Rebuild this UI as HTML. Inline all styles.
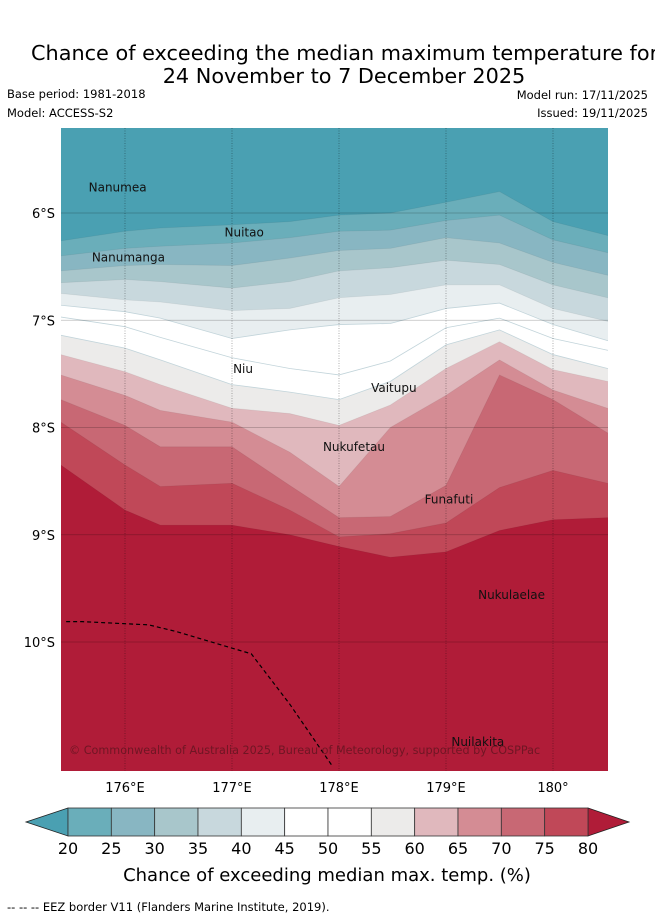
<!DOCTYPE html>
<html><head><meta charset="utf-8"><style>
html,body{margin:0;padding:0;background:#fff;width:655px;height:919px;overflow:hidden}
svg{display:block;font-family:"DejaVu Sans","Liberation Sans",sans-serif}
</style></head><body>
<svg id="chart" width="655" height="919" viewBox="0 0 655 919">
<text x="31" y="60" font-size="20.8" fill="#000">Chance of exceeding the median maximum temperature for</text>
<text x="344" y="83" font-size="20.8" text-anchor="middle" fill="#000">24 November to 7 December 2025</text>
<text x="7" y="98" font-size="11.5">Base period: 1981-2018</text>
<text x="7" y="117" font-size="11.5">Model: ACCESS-S2</text>
<text x="648" y="99" font-size="11.5" text-anchor="end">Model run: 17/11/2025</text>
<text x="648" y="117" font-size="11.5" text-anchor="end">Issued: 19/11/2025</text>
<defs><clipPath id="plotclip"><rect x="61" y="128" width="547" height="643"/></clipPath></defs>
<g id="map" clip-path="url(#plotclip)"></g>
<g id="axes"></g>
<g id="cbar"></g>
<text x="327" y="881" font-size="18" text-anchor="middle">Chance of exceeding median max. temp. (%)</text>
<text x="7" y="911" font-size="11.5">-- -- -- EEZ border V11 (Flanders Marine Institute, 2019).</text>
</svg>
<script>
const lons = [175.40, 176.00, 176.33, 177.00, 177.54, 178.00, 178.48, 179.00, 179.50, 180.00, 180.51];
const levels = [20, 25, 30, 35, 40, 45, 50, 55, 60, 65, 70, 75, 80];
const lat20 = [6.26, 6.17, 6.14, 6.11, 6.08, 6.02, 6.00, 5.90, 5.80, 6.08, 6.21];
const lat25 = [6.40, 6.33, 6.31, 6.28, 6.23, 6.17, 6.16, 6.07, 6.02, 6.25, 6.37];
const lat30 = [6.54, 6.49, 6.48, 6.49, 6.42, 6.35, 6.33, 6.23, 6.28, 6.46, 6.58];
const lat35 = [6.65, 6.62, 6.64, 6.70, 6.64, 6.54, 6.51, 6.44, 6.48, 6.67, 6.79];
const lat40 = [6.75, 6.81, 6.83, 6.91, 6.89, 6.79, 6.76, 6.67, 6.67, 6.89, 7.01];
const lat45 = [6.86, 6.92, 6.98, 7.17, 7.09, 7.04, 7.03, 6.89, 6.84, 7.04, 7.19];
const lat50 = [6.97, 7.06, 7.16, 7.35, 7.45, 7.51, 7.38, 7.07, 6.98, 7.17, 7.28];
const lat55 = [7.14, 7.26, 7.37, 7.60, 7.67, 7.74, 7.57, 7.23, 7.09, 7.32, 7.45];
const lat60 = [7.32, 7.48, 7.60, 7.82, 7.87, 7.98, 7.79, 7.45, 7.20, 7.46, 7.57];
const lat65 = [7.51, 7.70, 7.84, 7.95, 8.23, 8.55, 8.00, 7.70, 7.37, 7.65, 7.82];
const lat70 = [7.74, 7.98, 8.18, 8.18, 8.54, 8.84, 8.83, 8.54, 7.51, 7.74, 8.05];
const lat75 = [7.95, 8.35, 8.55, 8.52, 8.77, 9.02, 8.99, 8.89, 8.56, 8.40, 8.52];
const lat80 = [8.35, 8.77, 8.91, 8.91, 9.00, 9.11, 9.21, 9.16, 8.96, 8.86, 8.84];
const contourLats = [lat20, lat25, lat30, lat35, lat40, lat45, lat50, lat55, lat60, lat65, lat70, lat75, lat80];
const bandColors = ["#4aa0b2","#6aaeba","#88b6c2","#a8c6cb","#c8d8dd","#e8eef0","#ffffff","#ffffff","#ecebea","#e0b8bd","#d48c94","#c86874","#c04858","#b01c38"];
const lonTicks = [176, 177, 178, 179, 180];
const lonTickLabels = ["176°E","177°E","178°E","179°E","180°"];
const latTicks = [6, 7, 8, 9, 10];
const latTickLabels = ["6°S","7°S","8°S","9°S","10°S"];
const islandNames = ["Nanumea","Nuitao","Nanumanga","Niu","Vaitupu","Nukufetau","Funafuti","Nukulaelae","Nuilakita"];
const islandLon = [175.66, 176.93, 175.69, 177.01, 178.30, 177.85, 178.80, 179.30, 179.05];
const islandLat = [5.80, 6.22, 6.45, 7.49, 7.67, 8.22, 8.71, 9.60, 10.97];
const eezLon = [175.45, 175.60, 176.22, 176.47, 177.18, 177.54, 177.94];
const eezLat = [9.81, 9.81, 9.84, 9.90, 10.11, 10.58, 11.16];

const NS = "http://www.w3.org/2000/svg";
const X0 = 61, X1 = 608, Y0 = 128, Y1 = 771;
function xs(lon){ return 125 + (lon - 176) * 107; }
function ys(lat){ return 213 + (lat - 6) * 107.25; }
function mk(tag, attrs, parent){ const e = document.createElementNS(NS, tag); for (const k in attrs) e.setAttribute(k, attrs[k]); parent.appendChild(e); return e; }

const map = document.getElementById('map');
const bg = mk('rect', {x:X0, y:Y0, width:X1-X0, height:Y1-Y0, fill:bandColors[0]}, map);


contourLats.forEach((arr, i) => {
  let d = 'M' + (X0-5) + ',' + ys(arr[0]);
  arr.forEach((la, j) => { d += ' L' + xs(lons[j]) + ',' + ys(la); });
  d += ' L' + (X1+5) + ',' + ys(arr[arr.length-1]) + ' L' + (X1+5) + ',' + (Y1+5) + ' L' + (X0-5) + ',' + (Y1+5) + 'Z';
  const p = mk('path', {d:d, fill:bandColors[i+1], stroke: (levels[i] >= 45 && levels[i] <= 55) ? '#c2d4da' : 'rgba(0,0,0,0.06)', 'stroke-width': 0.8}, map);
  
  
});
lonTicks.forEach(l => {
  const g = mk('line', {x1:xs(l), x2:xs(l), y1:Y0, y2:Y1, stroke:'rgba(0,0,0,0.45)', 'stroke-width':0.7, 'stroke-dasharray':'1,1.5'}, map);
  
  
});
latTicks.forEach(l => {
  const g = mk('line', {x1:X0, x2:X1, y1:ys(l), y2:ys(l), stroke:'rgba(0,0,0,0.25)', 'stroke-width':0.8}, map);
  
  
});
const eez = mk('polyline', {points: eezLon.map((l,i)=>xs(l)+','+ys(eezLat[i])).join(' '), fill:'none', stroke:'#000', 'stroke-width':1.2, 'stroke-dasharray':'4,3'}, map);


islandNames.forEach((n, i) => {
  const t = mk('text', {x:xs(islandLon[i]), y:ys(islandLat[i]), 'font-size':12, fill:'#111', 'text-anchor':'start'}, map);
  t.textContent = n;
  
  
});
const cp = mk('text', {x:69, y:754, 'font-size':11.2, fill:'rgba(90,20,30,0.75)'}, map);
cp.textContent = '© Commonwealth of Australia 2025, Bureau of Meteorology, supported by COSPPac';



const axes = document.getElementById('axes');
lonTicks.forEach((l, i) => {
  const t = mk('text', {x:xs(l), y:792, 'font-size':13, 'text-anchor':'middle'}, axes);
  t.textContent = lonTickLabels[i];
  
  
});
latTicks.forEach((l, i) => {
  const t = mk('text', {x:55, y:ys(l)+5, 'font-size':13, 'text-anchor':'end'}, axes);
  t.textContent = latTickLabels[i];
  
  
});

const cb = document.getElementById('cbar');
function cx(v){ return 68 + (v - 20) * (520 / 60); }
const cy0 = 808, cy1 = 836;
const lt = mk('polygon', {points: cx(20)+','+cy0+' 26,822 '+cx(20)+','+cy1, fill:bandColors[0], stroke:'#222', 'stroke-width':0.8}, cb);


const rt = mk('polygon', {points: cx(80)+','+cy0+' 629,822 '+cx(80)+','+cy1, fill:bandColors[13], stroke:'#222', 'stroke-width':0.8}, cb);


for (let i = 0; i < levels.length - 1; i++) {
  const r = mk('rect', {x:cx(levels[i]), y:cy0, width:cx(levels[i+1])-cx(levels[i]), height:cy1-cy0, fill:bandColors[i+1], stroke:'#333', 'stroke-width':0.8}, cb);
  
  
}
levels.forEach(v => {
  const t = mk('text', {x:cx(v), y:854, 'font-size':16, 'text-anchor':'middle'}, cb);
  t.textContent = v;
  
  
});
</script>
</body></html>
